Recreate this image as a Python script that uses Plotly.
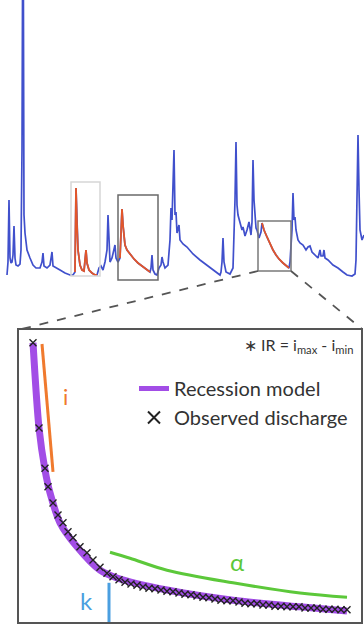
import plotly.graph_objects as go
import numpy as np

W, H = 364, 626

# ---------------- hydrograph (top panel) ----------------
days = [7, 8, 9, 10, 11, 12, 13, 14, 15, 16, 18, 20, 21, 22, 23, 24, 25, 27, 30, 33, 36, 40, 42, 43, 44, 47,
        50, 52, 53, 56, 60, 65, 70, 73, 75, 76, 77, 78, 80, 82, 84, 85, 86, 87, 89, 92, 95, 97, 99, 101,
        103, 105, 107, 108, 109, 110, 112, 114, 115, 116, 118, 120, 121, 122, 123, 125, 127, 130, 134, 138,
        142, 146, 150, 151, 152, 153, 155, 157, 159, 161, 162, 163, 165, 168, 170, 171, 172, 173, 174, 175,
        176, 177, 179, 180, 183, 187, 193, 200, 208, 215, 220, 221, 222, 223, 224, 226, 230, 233, 234, 235,
        236, 237, 238, 240, 242, 243, 245, 247, 249, 251, 252, 253, 254, 256, 257, 259, 261, 262, 264, 267,
        270, 273, 276, 279, 283, 287, 289, 290, 291, 292, 293, 294, 295, 296, 298, 300, 303, 306, 308, 310,
        312, 315, 318, 320, 321, 323, 324, 325, 328, 333, 338, 343, 347, 352, 355, 356, 357, 358, 359, 360,
        362, 364]
discharge = [2.5, 3.8, 10.0, 4.2, 3.7, 3.8, 4.5, 7.4, 4.2, 3.5, 3.4, 3.6, 5.0, 15.0, 45.0, 8.5, 6.7, 5.0, 4.2,
             3.5, 3.2, 3.2, 3.8, 4.7, 3.4, 3.2, 3.5, 4.8, 3.4, 3.2, 3.0, 2.7, 2.5, 2.5, 2.8, 11.2, 7.5, 5.0,
             3.5, 3.0, 2.9, 3.8, 5.0, 3.7, 3.0, 2.7, 2.5, 2.5, 3.2, 3.4, 3.0, 3.8, 5.0, 8.5, 6.0, 3.8, 4.2,
             5.2, 5.5, 4.2, 3.8, 4.2, 6.0, 9.1, 7.5, 5.5, 5.0, 4.6, 4.1, 3.7, 3.4, 3.1, 2.8, 3.2, 4.5, 3.0,
             2.6, 2.5, 3.2, 3.5, 4.3, 3.8, 3.2, 3.5, 6.0, 9.2, 8.0, 11.5, 15.0, 8.5, 8.8, 6.7, 7.5, 6.0, 5.6,
             5.3, 4.6, 4.0, 3.4, 2.9, 2.5, 2.8, 3.8, 6.2, 3.8, 2.8, 2.6, 3.2, 6.0, 10.0, 15.8, 9.5, 8.5, 7.8,
             7.0, 7.3, 6.4, 7.0, 7.8, 6.5, 7.8, 14.0, 10.0, 7.2, 7.0, 6.2, 6.8, 7.7, 7.0, 6.3, 5.6, 5.0, 4.5,
             4.1, 3.7, 3.3, 3.2, 3.8, 5.0, 7.0, 10.7, 8.0, 8.3, 7.0, 6.0, 5.7, 5.5, 5.0, 5.3, 5.4, 4.8, 4.5,
             4.2, 5.0, 4.4, 4.4, 5.0, 4.2, 4.0, 3.5, 3.2, 2.8, 2.5, 2.4, 2.6, 4.0, 10.0, 16.5, 11.0, 7.0,
             6.0, 6.5]

# recession events (start day, end day) highlighted in orange
event_start = [75, 120, 262]
event_end = [97, 150, 289]
# selection boxes: day range and discharge range
box_day0 = [71, 118, 258]
box_day1 = [100, 158, 291]
box_q0 = [2.4, 2.0, 2.9]
box_q1 = [11.8, 10.5, 7.9]
box_colors = ["#d6d6d6", "#6a6a6a", "#7a7a7a"]

# ---------------- recession inset (bottom panel) ----------------
obs_t = [3.75, 5.25, 6.75, 7.5, 8.75, 10.0, 11.25, 12.5, 13.75, 15.5, 17.25, 18.75, 20.5, 22.25, 23.75,
         25.25, 26.75, 28.25, 29.75, 31.25, 32.75, 34.25, 35.75, 37.25, 38.75, 40.25, 41.75, 43.25, 44.75,
         46.25, 47.75, 49.25, 50.75, 52.25, 53.75, 55.25, 56.75, 58.25, 59.75, 61.25, 62.75, 64.25, 65.75,
         67.25, 68.75, 70.25, 71.75, 73.25, 74.75, 76.25, 77.75, 79.25, 80.75, 82.25]
obs_q = [46.7, 32.5, 25.8, 22.7, 20.0, 18.0, 16.7, 15.2, 14.2, 12.7, 11.7, 10.5, 9.3, 8.3, 7.7,
         7.2, 6.8, 6.5, 6.3, 6.0, 5.8, 5.7, 5.5, 5.3, 5.2, 5.0, 4.8, 4.7, 4.5,
         4.3, 4.2, 4.0, 3.8, 3.7, 3.7, 3.5, 3.3, 3.2, 3.2, 3.0, 3.0, 2.8, 2.8,
         2.7, 2.7, 2.7, 2.5, 2.5, 2.5, 2.3, 2.3, 2.3, 2.2, 2.2]
model_t = [3.75, 5.25, 6.75, 8.0, 10.5, 14.75, 20.5, 24.75, 37.25, 53.75, 70.5, 82.25]
model_q = [46.7, 32.5, 25.5, 21.7, 16.7, 12.7, 8.8, 7.5, 5.5, 3.8, 2.7, 2.0]
i_t = [6.0, 8.75]
i_q = [46.5, 25.2]
alpha_t = [23.0, 28.0, 37.25, 53.75, 70.5, 82.25]
alpha_q = [11.8, 10.8, 8.8, 6.7, 5.0, 4.3]
k_t = [22.75, 22.75]
k_q = [6.7, 0.0]

# ---------------- layout geometry ----------------
top_dom = [0.5, 1.0]
top_xr = [0, 364]
top_yr = [-1.3, 30]
in_x0, in_x1 = 18 / W, 362 / W
in_y0, in_y1 = 1 - 623 / H, 1 - 329 / H
in_xr = [0, 86]
in_yr = [0, 49]

BLUE = "#4050cc"
ORANGE = "#e2562a"

fig = go.Figure()
fig.add_trace(go.Scatter(x=days, y=discharge, mode="lines", line=dict(color=BLUE, width=1.7),
                         showlegend=False, xaxis="x", yaxis="y", hoverinfo="skip"))
d = np.array(days)
q = np.array(discharge)
for s, e in zip(event_start, event_end):
    m = (d >= s) & (d <= e)
    fig.add_trace(go.Scatter(x=d[m], y=q[m], mode="lines", line=dict(color=ORANGE, width=1.8),
                             showlegend=False, xaxis="x", yaxis="y", hoverinfo="skip"))

fig.add_trace(go.Scatter(x=model_t, y=model_q, mode="lines", name="Recession model",
                         line=dict(color="#a24de6", width=7, shape="spline", smoothing=0.8),
                         xaxis="x2", yaxis="y2", legendgroup="a"))
fig.add_trace(go.Scatter(x=obs_t, y=obs_q, mode="markers", name="Observed discharge",
                         marker=dict(symbol="x-thin", size=7, line=dict(color="#222", width=1.4)),
                         xaxis="x2", yaxis="y2", legendgroup="b"))
fig.add_trace(go.Scatter(x=i_t, y=i_q, mode="lines", line=dict(color="#f07a2e", width=3),
                         showlegend=False, xaxis="x2", yaxis="y2"))
fig.add_trace(go.Scatter(x=alpha_t, y=alpha_q, mode="lines",
                         line=dict(color="#5cc83a", width=3, shape="spline"),
                         showlegend=False, xaxis="x2", yaxis="y2"))
fig.add_trace(go.Scatter(x=k_t, y=k_q, mode="lines", line=dict(color="#4a9fe0", width=3),
                         showlegend=False, xaxis="x2", yaxis="y2"))

shapes = []
for x0, x1, y0, y1, c in zip(box_day0, box_day1, box_q0, box_q1, box_colors):
    shapes.append(dict(type="rect", xref="x", yref="y", x0=x0, x1=x1, y0=y0, y1=y1,
                       line=dict(color=c, width=1.5), fillcolor="rgba(0,0,0,0)"))


def top_to_paper(xv, yv):
    px = (xv - top_xr[0]) / (top_xr[1] - top_xr[0])
    py = top_dom[0] + (yv - top_yr[0]) / (top_yr[1] - top_yr[0]) * (top_dom[1] - top_dom[0])
    return px, py


bx0, by0 = top_to_paper(box_day0[2], box_q0[2])
bx1, _ = top_to_paper(box_day1[2], box_q0[2])
shapes.append(dict(type="line", xref="paper", yref="paper", x0=bx0, y0=by0, x1=in_x0 + 0.01, y1=in_y1,
                   line=dict(color="#555", width=1.8, dash="dash")))
shapes.append(dict(type="line", xref="paper", yref="paper", x0=bx1, y0=by0, x1=in_x1, y1=in_y1,
                   line=dict(color="#555", width=1.8, dash="dash")))
shapes.append(dict(type="rect", xref="paper", yref="paper", x0=in_x0, x1=in_x1, y0=in_y0, y1=in_y1,
                   line=dict(color="#555", width=2), fillcolor="rgba(0,0,0,0)"))

FONT = "Lato, Open Sans, sans-serif"
annotations = [
    dict(x=11.75, y=37.7, xref="x2", yref="y2", text="i", showarrow=False,
         font=dict(size=22, color="#f07a2e", family=FONT)),
    dict(x=54.75, y=10.3, xref="x2", yref="y2", text="α", showarrow=False,
         font=dict(size=24, color="#5cc83a", family=FONT)),
    dict(x=17.0, y=3.8, xref="x2", yref="y2", text="k", showarrow=False,
         font=dict(size=24, color="#4a9fe0", family=FONT)),
    dict(x=355 / W, y=1 - 345 / H, xref="paper", yref="paper", xanchor="right", yanchor="middle",
         text="∗ IR = i<sub>max</sub> - i<sub>min</sub>", showarrow=False,
         font=dict(size=16, color="#333", family=FONT)),
]

fig.update_layout(
    width=W, height=H, autosize=False,
    margin=dict(l=0, r=0, t=0, b=0, pad=0),
    paper_bgcolor="white", plot_bgcolor="rgba(0,0,0,0)",
    xaxis=dict(domain=[0, 1], range=top_xr, visible=False, fixedrange=True),
    yaxis=dict(domain=top_dom, range=top_yr, visible=False, fixedrange=True),
    xaxis2=dict(domain=[in_x0, in_x1], range=in_xr, visible=False, anchor="y2"),
    yaxis2=dict(domain=[in_y0, in_y1], range=in_yr, visible=False, anchor="x2"),
    shapes=shapes, annotations=annotations,
    legend=dict(x=134 / W, y=1 - 369 / H, xanchor="left", yanchor="top",
                bgcolor="rgba(0,0,0,0)", font=dict(size=20, color="#333", family=FONT),
                tracegroupgap=0, itemwidth=30, itemsizing="constant"),
    showlegend=True,
)

fig.write_html("out.html")
